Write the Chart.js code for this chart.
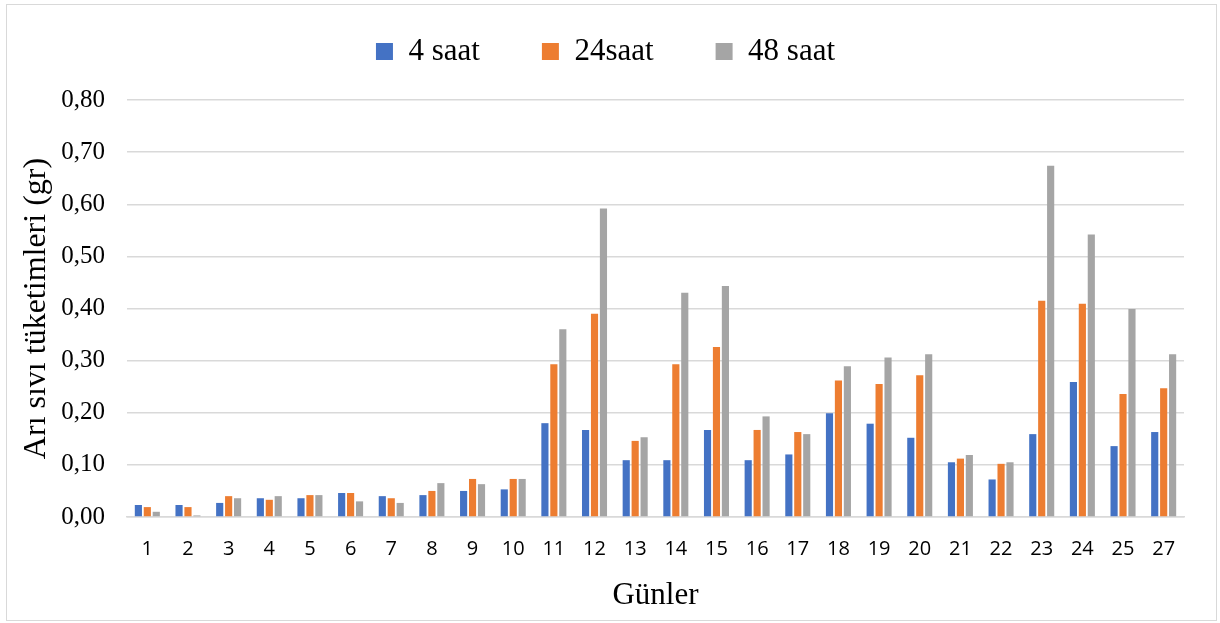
<!DOCTYPE html>
<html>
<head>
<meta charset="utf-8">
<script src="https://cdn.jsdelivr.net/npm/chart.js@4/dist/chart.umd.min.js"></script>
<style>
  body { margin: 0; background: #fff; }
  #frame { position: absolute; left: 6px; top: 4px; width: 1209px; height: 615px; border: 1px solid #d9d9d9; }
</style>
</head>
<body>
<div id="frame"><canvas id="chart" width="1209" height="615"></canvas></div>
<script>
const days = ['1','2','3','4','5','6','7','8','9','10','11','12','13','14','15','16','17','18','19','20','21','22','23','24','25','27'];
const saat4 = [0.023,0.023,0.027,0.036,0.036,0.046,0.040,0.042,0.050,0.053,0.180,0.167,0.109,0.109,0.167,0.109,0.120,0.199,0.179,0.152,0.105,0.072,0.159,0.259,0.136,0.163];
const saat24 = [0.019,0.019,0.040,0.033,0.042,0.046,0.036,0.050,0.073,0.073,0.293,0.390,0.146,0.293,0.326,0.167,0.163,0.262,0.255,0.272,0.112,0.102,0.415,0.409,0.236,0.247];
const saat48 = [0.010,0.003,0.036,0.040,0.042,0.030,0.027,0.065,0.063,0.073,0.360,0.592,0.153,0.430,0.443,0.193,0.159,0.289,0.306,0.312,0.119,0.105,0.674,0.542,0.399,0.312];

const serif = '"Liberation Serif", "Times New Roman", serif';
const sans = '"Open Sans", "Liberation Sans", sans-serif';

function makeSet(label, data, color) {
  return {
    label: label,
    data: data,
    backgroundColor: color,
    borderWidth: 0,
    categoryPercentage: 0.66,
    barPercentage: 0.8
  };
}

// legend is wide-spaced like the original, so its box gets a fixed height and a small shift
const legendSpacing = {
  id: 'legendSpacing',
  beforeLayout(chart) {
    const legend = chart.legend;
    if (!legend || legend._patched) return;
    const fit = legend.fit;
    legend.fit = function () { fit.call(this); this.height = 126; };
    legend._patched = true;
  },
  afterLayout(chart) {
    chart.legend.left += 10;
    chart.legend.right += 10;
  }
};

new Chart(document.getElementById('chart'), {
  type: 'bar',
  data: {
    labels: days,
    datasets: [
      makeSet('4 saat', saat4, '#4472C4'),
      makeSet('24saat', saat24, '#ED7D31'),
      makeSet('48 saat', saat48, '#A5A5A5')
    ]
  },
  plugins: [legendSpacing],
  options: {
    responsive: false,
    animation: false,
    layout: { padding: { top: -31, right: 32, bottom: 6, left: 0 } },
    plugins: {
      tooltip: { enabled: false },
      legend: {
        position: 'top',
        labels: {
          font: { family: serif, size: 31 },
          color: '#000',
          boxWidth: 17,
          boxHeight: 17,
          padding: 62
        }
      }
    },
    scales: {
      x: {
        grid: { display: false },
        border: { color: '#d9d9d9', width: 1.5 },
        ticks: { font: { family: sans, size: 20 }, color: '#000', padding: 12, maxRotation: 0 },
        title: { display: true, text: 'Günler', font: { family: serif, size: 31 }, color: '#000', padding: { top: 4, bottom: 0 } },
        afterFit: scale => { scale.height = 97; }
      },
      y: {
        min: 0,
        max: 0.8,
        ticks: {
          stepSize: 0.1,
          font: { family: serif, size: 25 },
          color: '#000',
          padding: 22,
          callback: v => v.toFixed(2).replace('.', ',')
        },
        grid: { color: '#d9d9d9', lineWidth: 1.5, drawTicks: false },
        border: { display: false },
        title: { display: true, text: 'Arı sıvı tüketimleri (gr)', font: { family: serif, size: 32 }, color: '#000', padding: { top: 10, bottom: 4 } },
        afterFit: scale => { scale.width = 120; }
      }
    }
  }
});
</script>
</body>
</html>
